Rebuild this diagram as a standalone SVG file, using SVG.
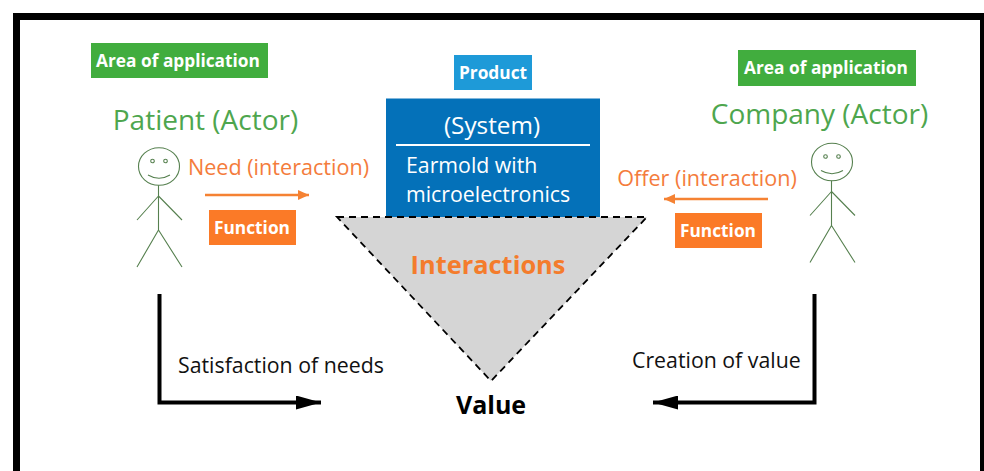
<svg xmlns="http://www.w3.org/2000/svg" width="984" height="471" viewBox="0 0 984 471">
<style>
text{font-family:"Open Sans","Noto Sans","Liberation Sans",sans-serif}
.tag{font-weight:700;font-size:17.3px;fill:#fff;text-anchor:middle}
.actor{font-size:28px;fill:#4ea64e;text-anchor:middle}
.act{font-size:21.6px;fill:#f47c3c;text-anchor:middle}
.sys{font-size:21.3px;fill:#fff}
.blk{font-size:21.3px;fill:#111}
.fig{fill:none;stroke:#56804f;stroke-width:1.1}
.conn{fill:none;stroke:#000;stroke-width:4}
.org{stroke:#f58233;stroke-width:2.5;fill:none}
</style>
<defs>
<marker id="ah" viewBox="0 0 25 14" markerUnits="userSpaceOnUse" markerWidth="25" markerHeight="14" refX="25" refY="7" orient="auto"><path d="M0 0L25 7L0 14Z" fill="#000"/></marker>
<marker id="oh" viewBox="0 0 11 10" markerUnits="userSpaceOnUse" markerWidth="11" markerHeight="10" refX="11" refY="5" orient="auto"><path d="M0 0L11 5L0 10Z" fill="#f58233"/></marker>
<g id="stick"><ellipse cx="0" cy="0" rx="20.500" ry="18.800"/><circle cx="-6.500" cy="-5.500" r="1.800"/><circle cx="6.500" cy="-5.500" r="1.800"/><path d="M-11 8.500Q0 15 11 8.500M-0.500 18.800V63.500M-0.500 29.500L-22 53.500M-0.500 29.500L23 53.500M-0.500 63.500L-22 100.500M-0.500 63.500L23 100.500"/></g>
</defs>
<rect id="background" width="984" height="471" fill="#fff"/>
<path id="frame-border" d="M13 471V13H984V471H980V20H20V471Z" fill="#000"/>
<g id="area-left"><rect x="91" y="43" width="177" height="35" fill="#41ad3e"/><text class="tag" x="178" y="67">Area of application</text></g>
<g id="patient"><text class="actor" x="205.500" y="130">Patient (Actor)</text><use href="#stick" class="fig" x="159" y="166.500"/></g>
<g id="need"><text class="act" x="278.500" y="175">Need (interaction)</text></g>
<g id="function-left"><rect x="209" y="210" width="87" height="35" fill="#fb7a27"/><text class="tag" x="252" y="234">Function</text></g>
<g id="product"><rect x="454" y="55" width="78" height="35" fill="#1e9ad8"/><text class="tag" x="493" y="79">Product</text></g>
<g id="system"><rect x="386" y="98.500" width="214" height="120" fill="#0471b9"/><text class="sys" x="492" y="134" text-anchor="middle" style="font-size:24.300px">(System)</text><path d="M396 145H590" stroke="#fff" stroke-width="2"/><text class="sys" x="406" y="173">Earmold with</text><text class="sys" x="406" y="202">microelectronics</text></g>
<g id="triangle"><path d="M337 217H647L491 381Z" fill="#d5d5d5" stroke="#000" stroke-width="1.800" stroke-dasharray="7 5"/><text x="488" y="274" text-anchor="middle" style="font-size:25.400px;font-weight:700;fill:#f47c2c">Interactions</text></g>
<g id="area-right"><rect x="738" y="50" width="178" height="36" fill="#41ad3e"/><text class="tag" x="826" y="74">Area of application</text></g>
<g id="company"><text class="actor" x="819.500" y="124">Company (Actor)</text><use href="#stick" class="fig" x="832" y="162"/></g>
<g id="offer"><text class="act" x="707" y="186">Offer (interaction)</text></g>
<g id="function-right"><rect x="675" y="213" width="87" height="35" fill="#fb7a27"/><text class="tag" x="718" y="237">Function</text></g>
<g id="value"><text x="491" y="414" text-anchor="middle" style="font-size:25px;font-weight:700;fill:#000">Value</text></g>
<g id="labels"><text class="blk" x="178" y="373">Satisfaction of needs</text><text class="blk" x="632" y="368">Creation of value</text></g>
<g id="connectors">
<path class="org" d="M205 195H309" marker-end="url(#oh)"/>
<path class="org" d="M768 199H664" marker-end="url(#oh)"/>
<path class="conn" d="M159.500 294V402.500H321" marker-end="url(#ah)"/>
<path class="conn" d="M814.500 294V402.500H653" marker-end="url(#ah)"/>
</g>
</svg>
